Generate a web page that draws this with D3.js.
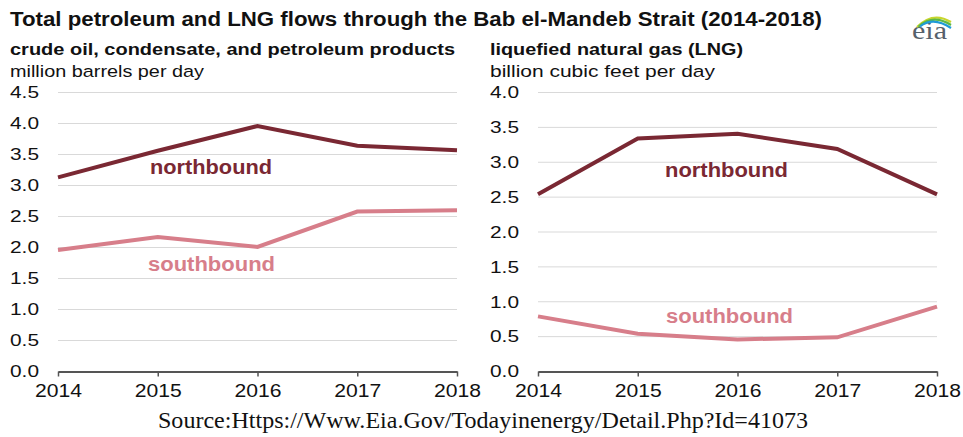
<!DOCTYPE html>
<html><head><meta charset="utf-8">
<script src="https://cdn.jsdelivr.net/npm/d3@7"></script>
<style>body{margin:0;background:#fff}svg{display:block}</style>
</head><body>
<script>
const years = [2014, 2015, 2016, 2017, 2018];
const oilNorth = [3.13, 3.56, 3.96, 3.64, 3.57];
const oilSouth = [1.96, 2.17, 2.01, 2.58, 2.60];
const lngNorth = [2.54, 3.34, 3.41, 3.19, 2.54];
const lngSouth = [0.79, 0.54, 0.46, 0.49, 0.93];
const oilTicks = [0, 0.5, 1.0, 1.5, 2.0, 2.5, 3.0, 3.5, 4.0, 4.5];
const lngTicks = [0, 0.5, 1.0, 1.5, 2.0, 2.5, 3.0, 3.5, 4.0];

const W = 963, H = 437;
const svg = d3.select("body").append("svg").attr("width", W).attr("height", H);
const F = "Liberation Sans, Arial, sans-serif";
const cN = "#7a2833", cS = "#d77e8a";

function fitW(sel, w) {
  sel.attr("textLength", w).attr("lengthAdjust", "spacingAndGlyphs");
  return sel;
}
function stretch(sel, k) {
  sel.each(function () {
    const L = this.getComputedTextLength();
    d3.select(this).attr("textLength", L * k).attr("lengthAdjust", "spacingAndGlyphs");
  });
}

fitW(svg.append("text").attr("x", 10).attr("y", 26).attr("font-family", F).attr("font-weight", "bold")
  .attr("font-size", 19.5).attr("fill", "#111").text("Total petroleum and LNG flows through the Bab el-Mandeb Strait (2014-2018)"), 812);

// eia logo
const lg = svg.append("g");
fitW(lg.append("text").attr("x", 912).attr("y", 39).attr("font-family", "Liberation Serif, serif")
  .attr("font-size", 25).attr("fill", "#56616b").text("eia"), 35);
[["#c8d62e", 0], ["#5db846", 2.5], ["#1e9bd7", 5]].forEach(([c, o]) => {
  lg.append("path").attr("d", `M${917+o*0.6},${27-o*0.1} Q${933},${11+o} ${951},${22+o*1.2}`)
    .attr("fill", "none").attr("stroke", c).attr("stroke-width", 2.2);
});

function panel(x0, x1, max, ticks, north, south, title, unit, tx, tw, uw, tickR, labN, labS) {
  const y = d3.scaleLinear().domain([0, max]).range([371.5, 92.5]);
  const x = d3.scalePoint().domain(years).range([x0, x1]);
  const g = svg.append("g");
  fitW(g.append("text").attr("x", tx).attr("y", 55).attr("font-family", F).attr("font-weight", "bold")
    .attr("font-size", 17).attr("fill", "#111").text(title), tw);
  fitW(g.append("text").attr("x", tx).attr("y", 77).attr("font-family", F)
    .attr("font-size", 16.3).attr("fill", "#111").text(unit), uw);
  g.selectAll(".grid").data(ticks.filter(t => t > 0)).join("line")
    .attr("x1", x0).attr("x2", x1).attr("y1", d => y(d)).attr("y2", d => y(d))
    .attr("stroke", "#d9d9d9").attr("stroke-width", 1);
  const yl = g.selectAll(".yl").data(ticks).join("text")
    .attr("x", tickR).attr("y", d => y(d) + 5.8).attr("text-anchor", "end")
    .attr("font-family", F).attr("font-size", 16.3).attr("fill", "#111")
    .text(d => d.toFixed(1));
  fitW(yl, 29);
  const ax = g.append("g").attr("transform", `translate(0,${y(0)})`)
    .call(d3.axisBottom(x).tickSize(5).tickSizeOuter(0).tickPadding(8));
  ax.select(".domain").attr("stroke", "#555").attr("stroke-width", 2);
  ax.selectAll(".tick line").attr("stroke", "#555").attr("stroke-width", 1.5);
  const tt = ax.selectAll(".tick text").attr("font-family", F).attr("font-size", 18).attr("fill", "#111");
  fitW(tt, 47);
  const line = d3.line().x((d, i) => x(years[i])).y(d => y(d));
  g.append("path").attr("d", line(north)).attr("fill", "none").attr("stroke", cN).attr("stroke-width", 4);
  g.append("path").attr("d", line(south)).attr("fill", "none").attr("stroke", cS).attr("stroke-width", 4);
  fitW(g.append("text").attr("x", labN[0]).attr("y", labN[1]).attr("font-family", F)
    .attr("font-weight", "bold").attr("font-size", 19.5).attr("fill", cN).text("northbound"), labN[2]);
  fitW(g.append("text").attr("x", labS[0]).attr("y", labS[1]).attr("font-family", F)
    .attr("font-weight", "bold").attr("font-size", 19.5).attr("fill", cS).text("southbound"), labS[2]);
}

panel(58, 457, 4.5, oilTicks, oilNorth, oilSouth, "crude oil, condensate, and petroleum products",
  "million barrels per day", 10, 445, 194, 39, [150, 174, 122], [148, 271, 127]);
panel(538, 937, 4.0, lngTicks, lngNorth, lngSouth, "liquefied natural gas (LNG)",
  "billion cubic feet per day", 490, 253, 225, 519, [665, 177, 123], [666, 323, 127]);

fitW(svg.append("text").attr("x", 158).attr("y", 428)
  .attr("font-family", "Liberation Serif, Times New Roman, serif").attr("font-size", 22.5).attr("fill", "#111")
  .text("Source:Https://Www.Eia.Gov/Todayinenergy/Detail.Php?Id=41073"), 650);
</script>
</body></html>
